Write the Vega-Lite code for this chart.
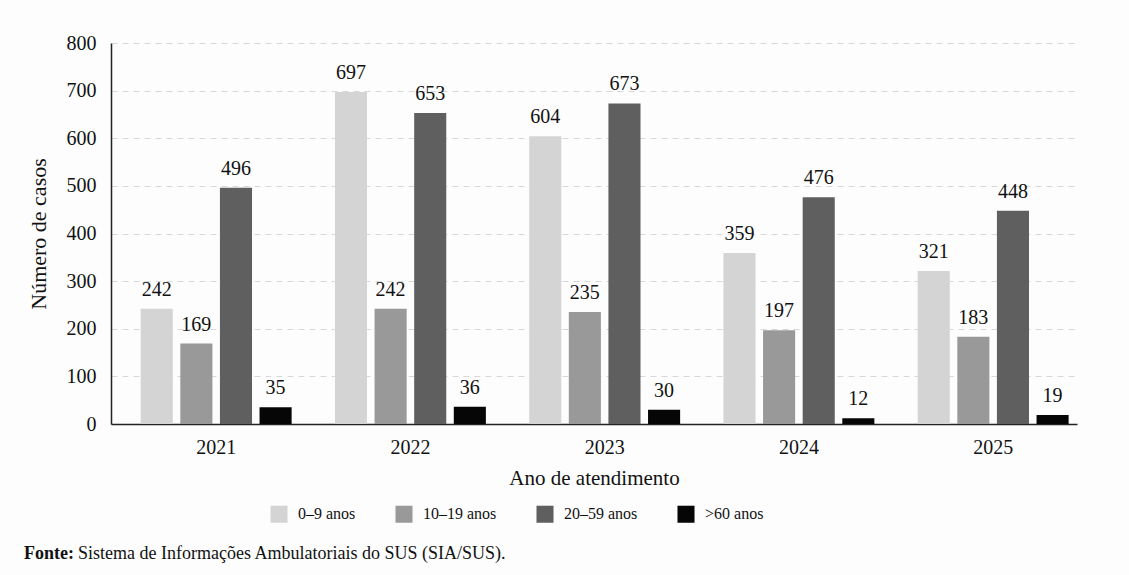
{
  "$schema": "https://vega.github.io/schema/vega-lite/v6.json",
  "autosize": "none",
  "width": 966,
  "height": 381,
  "padding": {"left": 111, "top": 43, "right": 52, "bottom": 151},
  "background": "#fdfdfd",
  "config": {
    "font": "Liberation Serif",
    "view": {"stroke": null},
    "axis": {"labelFont": "Liberation Serif", "titleFont": "Liberation Serif"},
    "legend": {"labelFont": "Liberation Serif"},
    "text": {"font": "Liberation Serif"}
  },
  "title": {
    "text": "Fonte:",
    "subtitle": "\u200b\u00a0\u00a0\u00a0\u00a0\u00a0\u00a0\u00a0\u00a0\u00a0\u00a0\u00a0\u00a0Sistema de Informações Ambulatoriais do SUS (SIA/SUS).",
    "orient": "bottom",
    "anchor": "start",
    "frame": "group",
    "dx": -87,
    "offset": 22,
    "font": "Liberation Serif",
    "fontSize": 18,
    "fontWeight": "bold",
    "color": "#111111",
    "subtitleFont": "Liberation Serif",
    "subtitleFontSize": 18,
    "subtitleFontWeight": "normal",
    "subtitleColor": "#111111",
    "subtitlePadding": -18
  },
  "data": {
    "values": [
      {"ano": "2021", "faixa": "0–9 anos", "casos": 242},
      {"ano": "2021", "faixa": "10–19 anos", "casos": 169},
      {"ano": "2021", "faixa": "20–59 anos", "casos": 496},
      {"ano": "2021", "faixa": ">60 anos", "casos": 35},
      {"ano": "2022", "faixa": "0–9 anos", "casos": 697},
      {"ano": "2022", "faixa": "10–19 anos", "casos": 242},
      {"ano": "2022", "faixa": "20–59 anos", "casos": 653},
      {"ano": "2022", "faixa": ">60 anos", "casos": 36},
      {"ano": "2023", "faixa": "0–9 anos", "casos": 604},
      {"ano": "2023", "faixa": "10–19 anos", "casos": 235},
      {"ano": "2023", "faixa": "20–59 anos", "casos": 673},
      {"ano": "2023", "faixa": ">60 anos", "casos": 30},
      {"ano": "2024", "faixa": "0–9 anos", "casos": 359},
      {"ano": "2024", "faixa": "10–19 anos", "casos": 197},
      {"ano": "2024", "faixa": "20–59 anos", "casos": 476},
      {"ano": "2024", "faixa": ">60 anos", "casos": 12},
      {"ano": "2025", "faixa": "0–9 anos", "casos": 321},
      {"ano": "2025", "faixa": "10–19 anos", "casos": 183},
      {"ano": "2025", "faixa": "20–59 anos", "casos": 448},
      {"ano": "2025", "faixa": ">60 anos", "casos": 19}
    ]
  },
  "encoding": {
    "x": {
      "field": "ano",
      "type": "nominal",
      "scale": {"paddingInner": 0.223, "paddingOuter": 0.098, "align": 0.78},
      "axis": {
        "title": "Ano de atendimento",
        "titleFont": "Liberation Serif",
        "titleFontSize": 21,
        "titleFontWeight": "normal",
        "titleColor": "#111111",
        "titlePadding": 10,
        "labelAngle": 0,
        "labelFont": "Liberation Serif",
        "labelFontSize": 20,
        "labelColor": "#111111",
        "labelPadding": 13,
        "ticks": false,
        "domainColor": "#222222",
        "domainWidth": 1.5,
        "grid": false
      }
    },
    "xOffset": {
      "field": "faixa",
      "type": "nominal",
      "sort": ["0–9 anos", "10–19 anos", "20–59 anos", ">60 anos"],
      "scale": {"paddingInner": 0.19, "paddingOuter": 0}
    },
    "y": {
      "field": "casos",
      "type": "quantitative",
      "scale": {"domain": [0, 800], "nice": false},
      "axis": {
        "title": "Número de casos",
        "titleFont": "Liberation Serif",
        "titleFontSize": 22,
        "titleFontWeight": "normal",
        "titleColor": "#111111",
        "titlePadding": 16,
        "labelFont": "Liberation Serif",
        "labelFontSize": 20,
        "labelColor": "#111111",
        "labelPadding": 15,
        "labelOverlap": false,
        "values": [0, 100, 200, 300, 400, 500, 600, 700, 800],
        "ticks": false,
        "domainColor": "#222222",
        "domainWidth": 1.5,
        "grid": true,
        "gridColor": "#d8d8d8",
        "gridDash": [6, 5],
        "gridWidth": 1
      }
    },
    "color": {
      "field": "faixa",
      "type": "nominal",
      "sort": ["0–9 anos", "10–19 anos", "20–59 anos", ">60 anos"],
      "scale": {
        "domain": ["0–9 anos", "10–19 anos", "20–59 anos", ">60 anos"],
        "range": ["#d4d4d4", "#999999", "#5f5f5f", "#060606"]
      },
      "legend": {
        "title": null,
        "orient": "none",
        "legendX": 159,
        "legendY": 462,
        "direction": "horizontal",
        "symbolType": "square",
        "symbolSize": 290,
        "symbolStrokeWidth": 0,
        "labelFont": "Liberation Serif",
        "labelFontSize": 16,
        "labelColor": "#111111",
        "labelOffset": 10,
        "columnPadding": 39
      }
    }
  },
  "layer": [
    {"mark": {"type": "bar"}},
    {
      "mark": {"type": "text", "baseline": "bottom", "dy": -9, "fontSize": 20, "font": "Liberation Serif", "color": "#111111"},
      "encoding": {
        "text": {"field": "casos", "type": "quantitative"},
        "color": {"value": "#111111"}
      }
    }
  ]
}
